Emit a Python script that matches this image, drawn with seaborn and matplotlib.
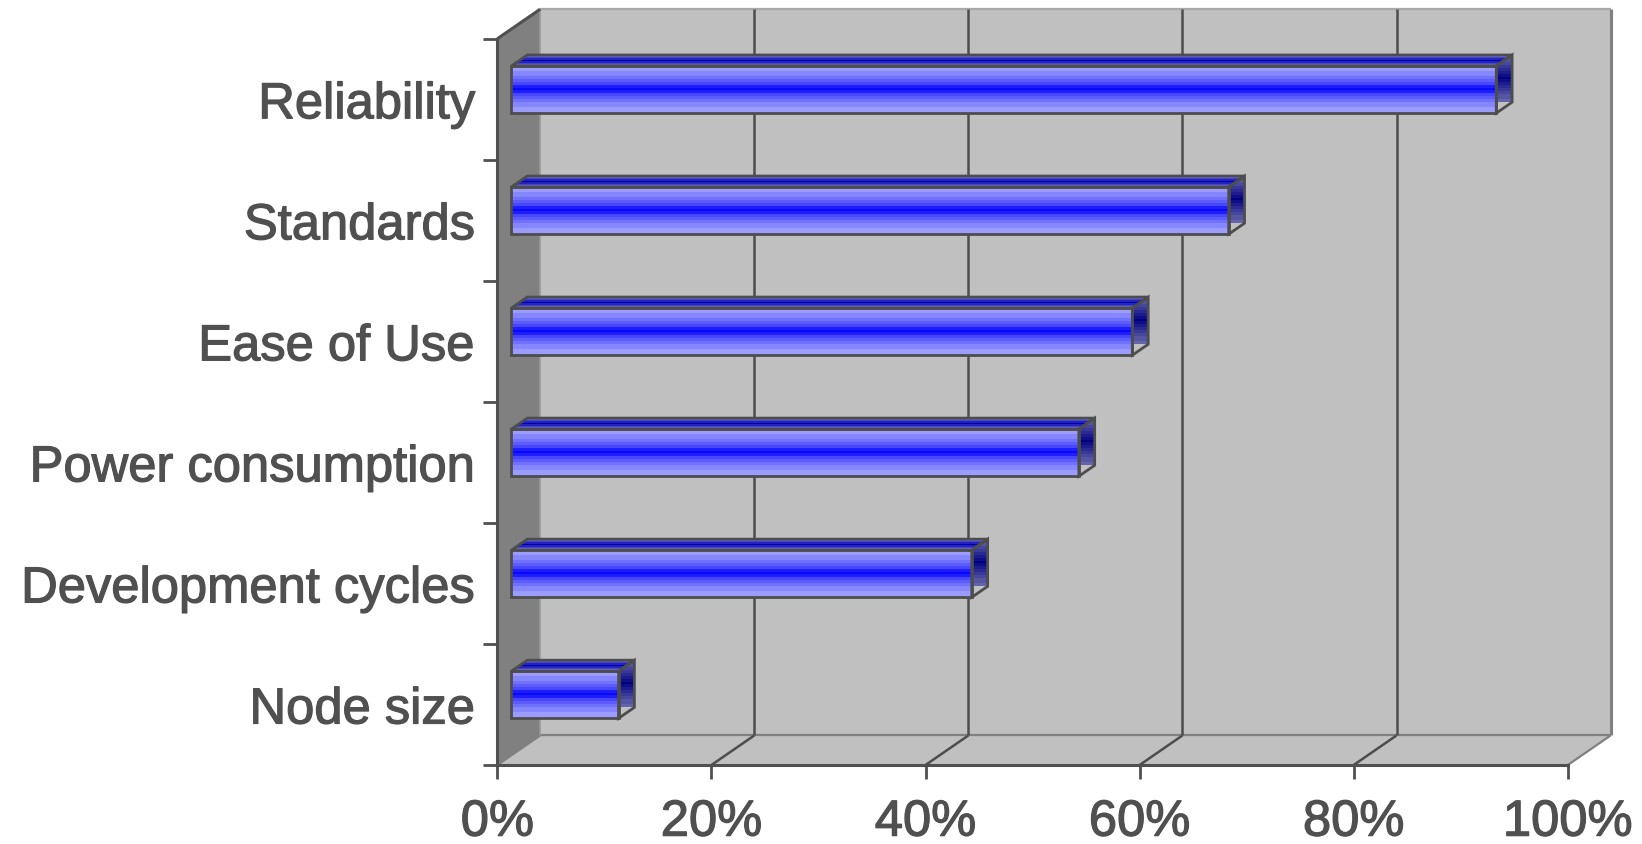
import numpy as np
import pandas as pd
import seaborn as sns
import matplotlib
matplotlib.use("Agg")
import matplotlib.pyplot as plt
import matplotlib.patheffects as pe
from matplotlib.patches import Polygon, Rectangle
from matplotlib.colors import to_rgb
from matplotlib.ticker import FixedLocator

sns.set_style("white")
plt.rcParams['font.family'] = ['Liberation Sans', 'DejaVu Sans']

categories = ["Reliability", "Standards", "Ease of Use", "Power consumption",
              "Development cycles", "Node size"]
values = [92, 67, 58, 53, 43, 10]
x_ticks = [0, 20, 40, 60, 80, 100]
x_labels = ["0%", "20%", "40%", "60%", "80%", "100%"]

df = pd.DataFrame({"factor": categories, "share": values})

# fake 3D box depth in data units (x in percent, y in category steps)
DX, DY = 4.0, -0.244
F0, F1 = 0.33, 0.70  # front / back of the bars as part of the depth
TXT = "#505050"


def banded(edge, center, rows=17, steps=7, power=1.6):
    # stepped gradient: edge colour at both ends, center colour in the middle
    t = (1 - np.abs(np.linspace(-1, 1, rows))) ** power
    t = np.round(t * steps) / steps
    e, c = np.array(to_rgb(edge)), np.array(to_rgb(center))
    return (e[None, :] * (1 - t[:, None]) + c[None, :] * t[:, None])[:, None, :]


fig = plt.figure(figsize=(16.42, 8.44), dpi=100)
ax = fig.add_axes([0.3029, 0.0936, 0.6519, 0.8605])
sns.barplot(data=df, x="share", y="factor", orient="h", width=0.39,
            color="#3333ff", errorbar=None, ax=ax)
bars = list(ax.patches)

# walls of the box
ax.add_patch(Rectangle((DX, -0.5 + DY), 100, 6, fc="#c0c0c0", ec="none",
                       zorder=0, clip_on=False))
ax.add_patch(Polygon([(0, -0.5), (DX, -0.5 + DY), (DX, 5.5 + DY), (0, 5.5)],
                     fc="#808080", ec="none", zorder=0.5, clip_on=False))
ax.add_patch(Polygon([(0, 5.5), (100, 5.5), (100 + DX, 5.5 + DY), (DX, 5.5 + DY)],
                     fc="#c0c0c0", ec="none", zorder=0.5, clip_on=False))
kw = dict(clip_on=False, solid_capstyle="butt")
ax.plot([DX, 100 + DX], [-0.5 + DY, -0.5 + DY], color="#a8a8a8", lw=1.6, zorder=1, **kw)
ax.plot([100 + DX, 100 + DX], [-0.5 + DY, 5.5 + DY], color="#808080", lw=2.2, zorder=1, **kw)
ax.plot([DX, 100 + DX], [5.5 + DY, 5.5 + DY], color="#808080", lw=1.6, zorder=1, **kw)
ax.plot([DX, DX], [-0.5 + DY, 5.5 + DY], color="#9a9a9a", lw=1.2, zorder=1, **kw)
ax.plot([0, DX], [-0.5, -0.5 + DY], color=TXT, lw=2.2, zorder=2, **kw)
ax.plot([0, DX], [5.5, 5.5 + DY], color="#808080", lw=1.6, zorder=1, **kw)
ax.plot([100, 100 + DX], [5.5, 5.5 + DY], color="#808080", lw=1.6, zorder=1, **kw)
for x in x_ticks[1:-1]:
    ax.plot([x + DX, x + DX], [5.5 + DY, -0.5 + DY], color="#4d4d4d", lw=1.8, zorder=1, **kw)
    ax.plot([x, x + DX], [5.5, 5.5 + DY], color="#4d4d4d", lw=1.8, zorder=1, **kw)

# bars: shift the front face into the box and add top and side faces
front_img = banded("#9c9cff", "#0808ff")
side_img = banded("#6464aa", "#000080", power=1.2)
top_img = banded("#6a6ad8", "#0000b0", rows=7, steps=3, power=1.0)
bdx, bdy = (F1 - F0) * DX, (F1 - F0) * DY
for p in bars:
    p.set_x(p.get_x() + F0 * DX)
    p.set_y(p.get_y() + F0 * DY)
    x0, y0, w, h = p.get_x(), p.get_y(), p.get_width(), p.get_height()
    p.set_facecolor("none")
    p.set_edgecolor("#4d4d4d")
    p.set_linewidth(2.0)
    p.set_zorder(6)
    p.set_clip_on(False)
    im = ax.imshow(front_img, extent=(x0, x0 + w, y0 + h, y0), aspect="auto",
                   interpolation="nearest", zorder=5)
    im.set_clip_path(p)

    top = Polygon([(x0, y0), (x0 + w, y0), (x0 + w + bdx, y0 + bdy), (x0 + bdx, y0 + bdy)],
                  fc="none", ec="#4d4d4d", lw=2.0, zorder=6, clip_on=False)
    side = Polygon([(x0 + w, y0), (x0 + w + bdx, y0 + bdy), (x0 + w + bdx, y0 + h + bdy),
                    (x0 + w, y0 + h)], fc="none", ec="#4d4d4d", lw=2.0, zorder=6, clip_on=False)
    ax.add_patch(top)
    ax.add_patch(side)
    im = ax.imshow(top_img, extent=(x0, x0 + w + bdx, y0, y0 + bdy), aspect="auto",
                   interpolation="nearest", zorder=5)
    im.set_clip_path(top)
    im = ax.imshow(side_img, extent=(x0 + w, x0 + w + bdx, y0 + h + bdy, y0 + bdy),
                   aspect="auto", interpolation="nearest", zorder=5)
    im.set_clip_path(side)

ax.set_xlim(0, 100)
ax.set_ylim(5.5, -0.5)
ax.patch.set_visible(False)
for s in ["top", "right"]:
    ax.spines[s].set_visible(False)
for s in ["left", "bottom"]:
    ax.spines[s].set_color(TXT)
    ax.spines[s].set_linewidth(2.2)
    ax.spines[s].set_zorder(3)

ax.set_xticks(x_ticks)
ax.set_xticklabels(x_labels)
ax.yaxis.set_minor_locator(FixedLocator(np.arange(-0.5, 6, 1)))
ax.tick_params(axis="x", bottom=True, length=10, width=2, color=TXT, direction="out",
               labelsize=36.5, labelcolor=TXT, pad=13.5)
ax.tick_params(axis="y", which="major", left=True, length=0, labelsize=36.5,
               labelcolor=TXT, pad=16)
ax.tick_params(axis="y", which="minor", left=True, length=10, width=2, color=TXT,
               direction="out")
ax.set_xlabel("")
ax.set_ylabel("")

# reference text is a bit heavier than Liberation regular
for t in ax.get_xticklabels() + ax.get_yticklabels():
    t.set_path_effects([pe.withStroke(linewidth=0.9, foreground=TXT)])

fig.savefig("out.png", dpi=100)
